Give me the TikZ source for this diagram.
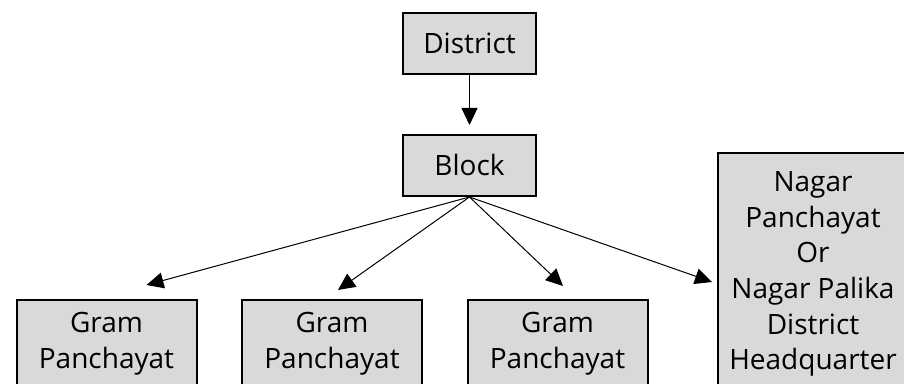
\documentclass[tikz,border=0pt]{standalone}
\usepackage{fontspec}
\setmainfont{Open Sans}
\usetikzlibrary{positioning, arrows.meta, calc}
\definecolor{boxgray}{RGB}{217,217,217}

\begin{document}
\begin{tikzpicture}[
		x=0.5pt, y=-0.5pt,
		>={Triangle[length=8.5pt, width=8pt]},
		node distance=29.5pt,
		% Box Styles
		unit_small/.style={rectangle, draw=black, fill=boxgray, line width=1pt, minimum width=66.5pt, minimum height=30.5pt, align=center, font=\fontsize{14}{17.8}\selectfont},
		unit_gram/.style={unit_small, minimum width=90pt, minimum height=44pt},
		unit_nagar/.style={unit_small, minimum width=95pt, minimum height=121pt},
		% Edge Styles
		link_edge/.style={->, draw=black, line width=0.5pt}
		]
		\useasboundingbox (0,0) rectangle (904,384);
		
		% --- 1. TOP LEVEL ---
		\node[unit_small] (District) at (469.5,43.5) {District};
		\node[unit_small, below=of District] (Block) {Block};
		
		% --- 2. LOWER LEVEL ---
		\node[unit_gram] (Gram1) at (106.5,344) {Gram\\Panchayat};
		\node[unit_gram] (Gram2) at (332,344) {Gram\\Panchayat};
		\node[unit_gram] (Gram3) at (557.5,344) {Gram\\Panchayat};
		\node[unit_nagar] (Nagar) at (813,274) {Nagar\\Panchayat\\Or\\Nagar Palika\\District\\Headquarter};
		
		% ================= LINKS =================
		\draw[link_edge, shorten >=4.5pt] (District) -- (Block);
		
		% Arrow tips stop short of the boxes
		\draw[link_edge] (Block.south) -- ($(Gram1.north)+(40,-14)$);
		\draw[link_edge] (Block.south) -- ($(Gram2.north)+(6,-9)$);
		\draw[link_edge] (Block.south) -- ($(Gram3.north)+(5.5,-13)$);
		\draw[link_edge] (Block.south) -- ($(Nagar.west)+(-5,8)$);
		
	\end{tikzpicture}
\end{document}
